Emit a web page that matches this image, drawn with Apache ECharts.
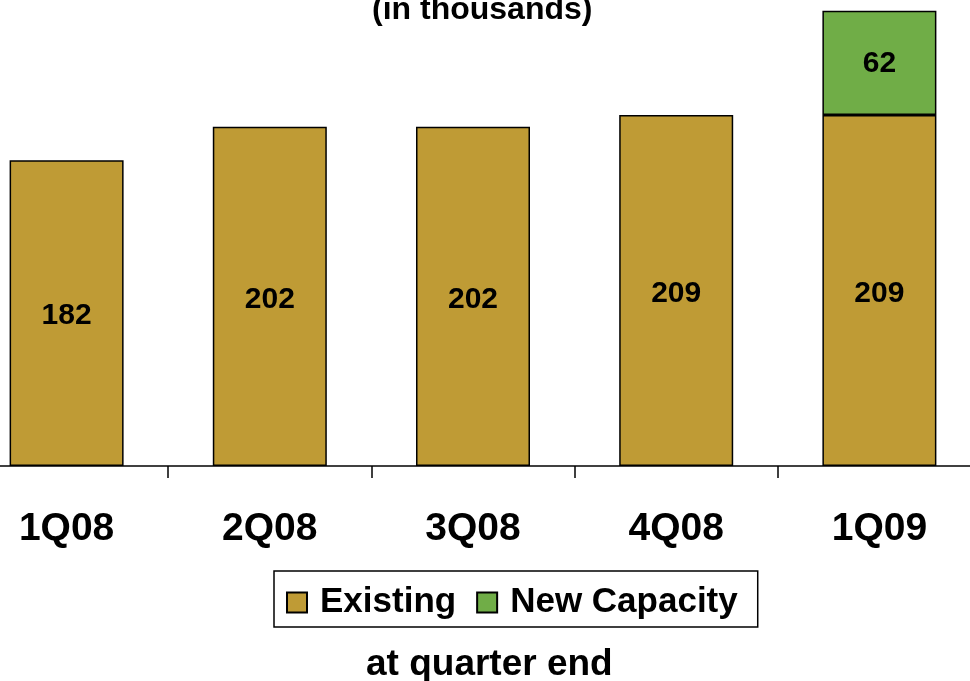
<!DOCTYPE html>
<html>
<head>
<meta charset="utf-8">
<script src="https://cdn.jsdelivr.net/npm/echarts@6/dist/echarts.min.js"></script>
<style>
  html, body { margin: 0; padding: 0; background: #fff; overflow: hidden; }
  /* the original is cropped: the plot runs past both edges of the page */
  #chart { position: absolute; left: -35px; top: 0; width: 1016px; height: 681px; }
</style>
</head>
<body>
<div id="chart"></div>
<script>
var quarters = ["1Q08", "2Q08", "3Q08", "4Q08", "1Q09"];
var existing = [182, 202, 202, 209, 209];
var newCapacity = [null, null, null, null, 62];

var font = "'Liberation Sans', Arial, sans-serif";
var chart = echarts.init(document.getElementById("chart"));

chart.setOption({
  animation: false,
  title: [
    {
      text: "(in thousands)",
      left: 402,
      top: -11,
      textStyle: { fontFamily: font, fontSize: 32, fontWeight: "bold", color: "#000" }
    },
    {
      text: "at quarter end",
      left: 396,
      top: 641,
      textStyle: { fontFamily: font, fontSize: 37, fontWeight: "bold", color: "#000" }
    }
  ],
  legend: {
    left: 309,
    top: 571,
    padding: [14, 20, 7, 12],
    itemWidth: 20,
    itemHeight: 20,
    itemGap: 20,
    icon: "rect",
    borderColor: "#000",
    borderWidth: 1.5,
    textStyle: { fontFamily: font, fontSize: 35, fontWeight: "bold", color: "#000", padding: [0, 0, 0, 8] },
    data: ["Existing", "New Capacity"]
  },
  grid: { left: 0, right: 0, top: 4, bottom: 215 },
  xAxis: {
    type: "category",
    data: quarters,
    axisLine: { lineStyle: { color: "#000", width: 1.5 } },
    axisTick: { show: true, length: 12, lineStyle: { color: "#000", width: 1.5 } },
    axisLabel: { margin: 44, fontFamily: font, fontSize: 39, fontWeight: "bold", color: "#000" }
  },
  yAxis: { type: "value", min: 0, max: 275, show: false },
  series: [
    {
      name: "Existing",
      type: "bar",
      stack: "total",
      barWidth: 114,
      data: existing,
      itemStyle: { color: "#BF9B35", borderColor: "#000", borderWidth: 1.5 },
      label: { show: true, position: "inside", offset: [0, 3], fontFamily: font, fontSize: 30, fontWeight: "bold", color: "#000" }
    },
    {
      name: "New Capacity",
      type: "bar",
      stack: "total",
      barWidth: 114,
      data: newCapacity,
      itemStyle: { color: "#70AD47", borderColor: "#000", borderWidth: 1.5 },
      label: { show: true, position: "inside", offset: [0, 1], fontFamily: font, fontSize: 30, fontWeight: "bold", color: "#000" }
    }
  ]
});
</script>
</body>
</html>
